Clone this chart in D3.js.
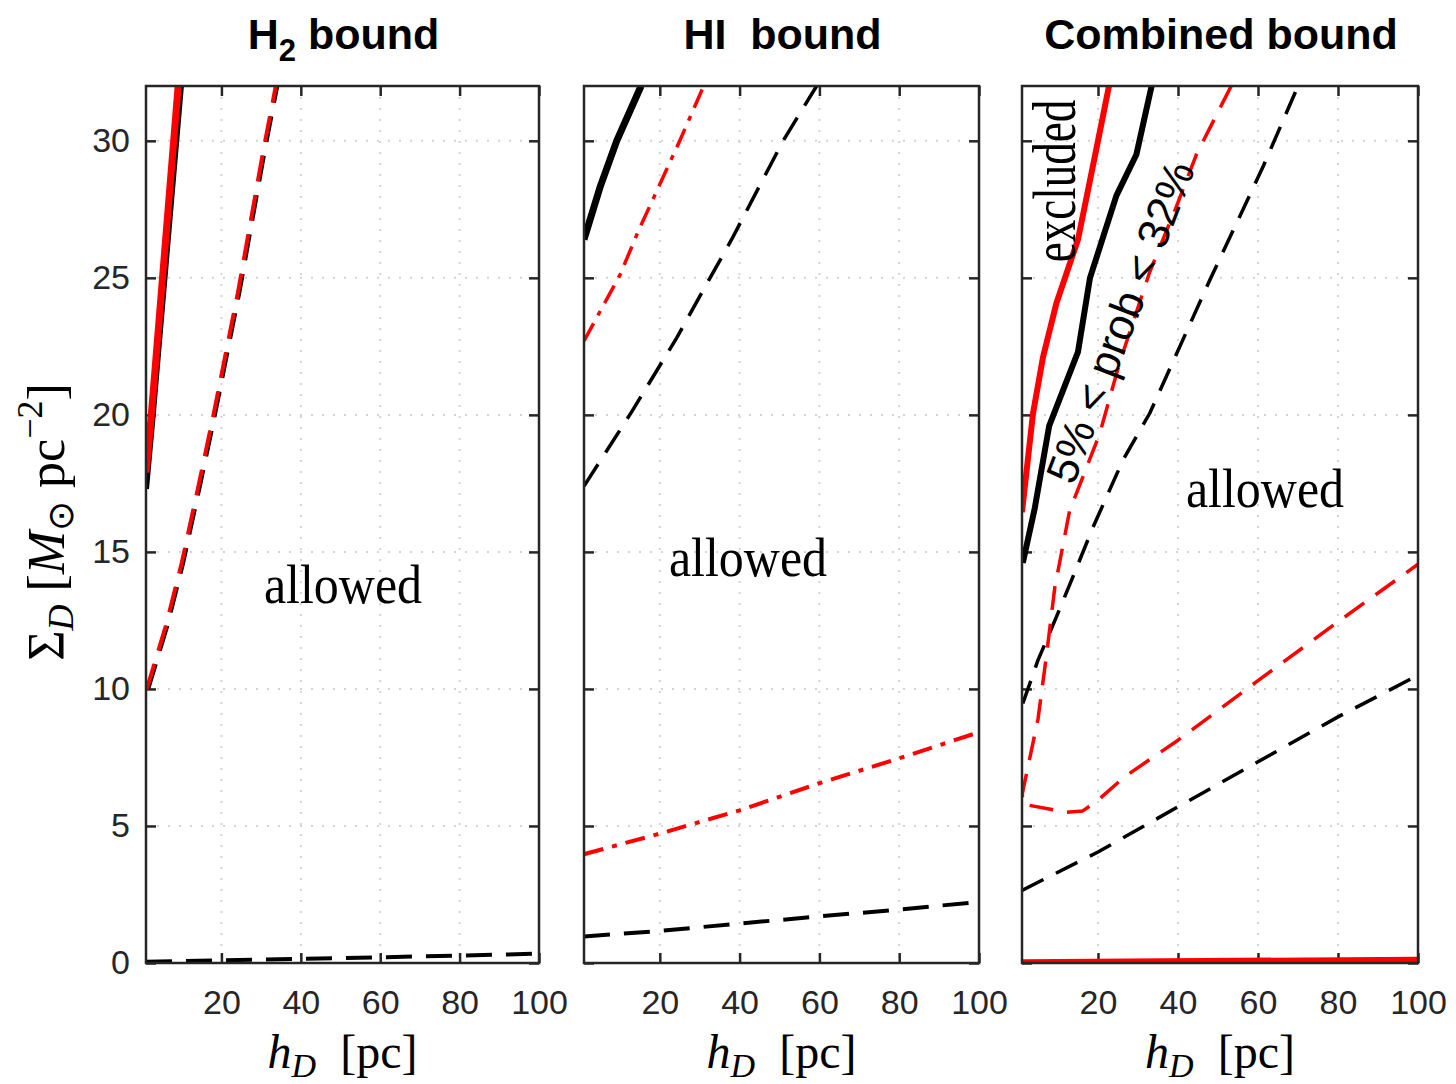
<!DOCTYPE html>
<html>
<head>
<meta charset="utf-8">
<script src="https://cdn.jsdelivr.net/npm/d3@7"></script>
<style>
  body { margin: 0; background: #fff; }
  svg { display: block; }
  .tick text { font-family: "Liberation Sans", Arial, sans-serif; font-size: 34px; fill: #262626; }
  .serif { font-family: "Liberation Serif", "Times New Roman", serif; fill: #000; }
</style>
</head>
<body>
<script>
(function(){

  // ---- data (x = h_D in pc, y = Sigma_D in Msun/pc^2) ----
  var xTicks = [20, 40, 60, 80, 100];
  var yTicks = [0, 5, 10, 15, 20, 25, 30];
  var titles = ['H2 bound', 'HI  bound', 'Combined bound'];

  // H2 bound
  var h2SolidBlack = [[1, 17.3], [2.7, 20], [9.8, 32]];
  var h2SolidRed   = [[1, 17.9], [2.35, 20], [9.1, 32]];
  var h2DashBlack  = [[1.5, 10], [6.3, 12.3], [10.3, 14.6], [14.8, 17.6], [18.3, 20], [24.5, 24.5], [30.8, 29.6], [34, 32]];
  var h2DashRed    = [[1.2, 10], [6, 12.3], [10, 14.6], [14.5, 17.6], [18, 20], [24.2, 24.5], [30.5, 29.6], [33.7, 32]];
  var h2LowBlack   = [[1, 0.05], [20, 0.1], [40, 0.15], [60, 0.21], [80, 0.27], [100, 0.34]];

  // HI bound
  var hiSolidBlack = [[1, 26.4], [5, 28.3], [9.2, 30], [15.3, 32]];
  var hiDashDotRed = [[1, 22.7], [10, 25.1], [14.6, 26.7], [25, 30], [31, 32]];
  var hiDashBlack  = [[1, 17.4], [12.9, 20.1], [24.2, 22.8], [32.6, 25], [38, 26.4], [50.9, 30], [59.3, 32]];
  var hiLowRed     = [[1, 3.97], [20, 4.72], [40, 5.57], [60, 6.56], [80, 7.47], [100, 8.42]];
  var hiLowBlack   = [[1, 0.97], [20, 1.17], [40, 1.44], [60, 1.70], [80, 1.95], [100, 2.23]];

  // Combined bound
  var cbSolidRed   = [[1, 16.45], [3.75, 20.05], [6.25, 22.1], [9.6, 24.07], [15, 26.4], [20, 30], [22.75, 32]];
  var cbSolidBlack = [[1.2, 14.6], [4.2, 16.6], [7.8, 19.6], [15, 22.3], [18, 25], [24.6, 28], [29.6, 29.5], [33.4, 32]];
  var cbDashRed    = [[53.3, 32], [44.6, 29.5], [39.6, 27.6], [32.9, 25.2], [25.4, 21.9], [20.4, 19.3], [12.9, 16.5],
                      [9.2, 13.7], [7.1, 11.2], [5, 8.9], [1.1, 6.2], [1.1, 5.8], [12.1, 5.5], [16.2, 5.55],
                      [20, 5.94], [26.7, 6.8], [40, 8.13], [60, 10.3], [80, 12.45], [100, 14.55]];
  var cbDashBlackUp  = [[1.2, 9.47], [5, 11.05], [9.6, 12.63], [13.75, 14.1], [18.75, 15.9], [26.25, 18.35],
                        [32.9, 20.05], [47.9, 24.9], [61.25, 29.05], [70, 32]];
  var cbDashBlackLow = [[1, 2.65], [20, 4.05], [40, 5.7], [60, 7.34], [80, 8.98], [100, 10.5]];
  var cbSolidRedLow  = [[1, 0.03], [100, 0.12]];

  // ---- layout ----
  var W = 1456, H = 1084;
  var top = 86, bottom = 963;
  var panels = [
    {x0: 146, x1: 539, yLabels: true, series: [
      {d: h2LowBlack, c: '#000', w: 4, dash: '26,14'},
      {d: h2DashBlack, c: '#000', w: 4.5, dash: '26,14'},
      {d: h2DashRed, c: '#f00', w: 4, dash: '26,14'},
      {d: h2SolidBlack, c: '#000', w: 6, dash: null},
      {d: h2SolidRed, c: '#f00', w: 7, dash: null}
    ], notes: [{t: 'allowed', x: 343, y: 603}]},
    {x0: 584, x1: 979, yLabels: false, series: [
      {d: hiLowBlack, c: '#000', w: 4, dash: '26,14'},
      {d: hiDashBlack, c: '#000', w: 3.5, dash: '26,14'},
      {d: hiLowRed, c: '#f00', w: 4, dash: '20,9,5,9'},
      {d: hiDashDotRed, c: '#f00', w: 3.5, dash: '20,9,5,9'},
      {d: hiSolidBlack, c: '#000', w: 7, dash: null}
    ], notes: [{t: 'allowed', x: 748, y: 576}]},
    {x0: 1022, x1: 1418, yLabels: false, series: [
      {d: cbDashBlackLow, c: '#000', w: 3.5, dash: '24,14'},
      {d: cbDashBlackUp, c: '#000', w: 3.5, dash: '24,14'},
      {d: cbDashRed, c: '#f00', w: 3.5, dash: '24,14'},
      {d: cbSolidBlack, c: '#000', w: 6, dash: null},
      {d: cbSolidRed, c: '#f00', w: 6, dash: null},
      {d: cbSolidRedLow, c: '#f00', w: 6, dash: null}
    ], notes: [{t: 'allowed', x: 1265, y: 507}]}
  ];

  var svg = d3.select('body').append('svg')
    .attr('width', W)
    .attr('height', H);

  var y = d3.scaleLinear().domain([0, 32]).range([bottom, top]);

  panels.forEach(function(p, i) {
    var x = d3.scaleLinear().domain([1, 100]).range([p.x0, p.x1]);
    var g = svg.append('g');

    g.append('clipPath').attr('id', 'clip' + i)
      .append('rect')
      .attr('x', p.x0).attr('y', top)
      .attr('width', p.x1 - p.x0).attr('height', bottom - top);

    // dotted grid
    var grid = g.append('g');
    grid.selectAll('line.gx')
      .data(xTicks.slice(0, 4))
      .enter().append('line')
      .attr('x1', function(d) {return x(d);})
      .attr('x2', function(d) {return x(d);})
      .attr('y1', top).attr('y2', bottom);
    grid.selectAll('line.gy')
      .data(yTicks.slice(1))
      .enter().append('line')
      .attr('y1', function(d) {return y(d);})
      .attr('y2', function(d) {return y(d);})
      .attr('x1', p.x0).attr('x2', p.x1);
    grid.selectAll('line')
      .attr('stroke', '#d4d4d4')
      .attr('stroke-width', 2)
      .attr('stroke-dasharray', '2,9');

    // axes with inward ticks
    var bAxis = d3.axisBottom(x).tickValues(xTicks).tickSize(-10).tickPadding(27).tickFormat(d3.format('d'));
    var tAxis = d3.axisTop(x).tickValues(xTicks).tickSize(-10).tickFormat('');
    var lAxis = d3.axisLeft(y).tickValues(yTicks).tickSize(-10).tickPadding(16);
    var rAxis = d3.axisRight(y).tickValues(yTicks).tickSize(-10).tickFormat('');
    if (!p.yLabels) lAxis.tickFormat('');

    [[bAxis, 'translate(0,' + bottom + ')'], [tAxis, 'translate(0,' + top + ')'],
     [lAxis, 'translate(' + p.x0 + ',0)'], [rAxis, 'translate(' + p.x1 + ',0)']].forEach(function(a) {
      var ag = g.append('g').attr('transform', a[1]).call(a[0]);
      ag.select('.domain').remove();
      ag.selectAll('.tick line').attr('stroke', '#262626').attr('stroke-width', 2.5);
    });

    // curves
    var line = d3.line()
      .x(function(d) {return x(d[0]);})
      .y(function(d) {return y(d[1]);});

    g.append('g').attr('clip-path', 'url(#clip' + i + ')')
      .selectAll('path')
      .data(p.series)
      .enter().append('path')
      .attr('d', function(s) {return line(s.d);})
      .attr('fill', 'none')
      .attr('stroke', function(s) {return s.c;})
      .attr('stroke-width', function(s) {return s.w;})
      .attr('stroke-dasharray', function(s) {return s.dash;})
      .attr('stroke-linejoin', 'round');

    // box
    g.append('rect')
      .attr('x', p.x0).attr('y', top)
      .attr('width', p.x1 - p.x0).attr('height', bottom - top)
      .attr('fill', 'none')
      .attr('stroke', '#262626')
      .attr('stroke-width', 2.5);

    p.notes.forEach(function(n) {
      g.append('text').attr('class', 'serif')
        .attr('transform', 'translate(' + n.x + ',' + n.y + ') scale(1,1.1)')
        .attr('text-anchor', 'middle')
        .style('font-size', '50px')
        .text(n.t);
    });

    // x label h_D [pc]
    var xl = g.append('text').attr('class', 'serif')
      .attr('x', (p.x0 + p.x1) / 2).attr('y', 1068)
      .attr('text-anchor', 'middle')
      .style('font-size', '48px');
    xl.append('tspan').style('font-style', 'italic').text('h');
    xl.append('tspan').style('font-style', 'italic').style('font-size', '34px').attr('dy', 9).text('D');
    xl.append('tspan').attr('dy', -9).text('\u00a0\u00a0[pc]');

    // title
    var tt = g.append('text')
      .attr('x', (p.x0 + p.x1) / 2 + 1).attr('y', 49)
      .attr('text-anchor', 'middle')
      .style('font-family', '"Liberation Sans", Arial, sans-serif')
      .style('font-weight', 'bold')
      .style('font-size', '43px');
    if (i === 0) {
      tt.append('tspan').text('H');
      tt.append('tspan').attr('dy', 12).style('font-size', '31px').text('2');
      tt.append('tspan').attr('dy', -12).text('\u00a0bound');
    } else {
      tt.text(titles[i].replace('  ', '\u00a0 '));
    }
  });

  // y label
  var yl = svg.append('text').attr('class', 'serif')
    .attr('transform', 'translate(64,522) rotate(-90)')
    .attr('text-anchor', 'middle')
    .style('font-size', '52px');
  yl.append('tspan').text('\u03a3');
  yl.append('tspan').style('font-style', 'italic').style('font-size', '36px').attr('dy', 9).text('D');
  yl.append('tspan').attr('dy', -9).text('\u00a0[');
  yl.append('tspan').style('font-style', 'italic').text('M');
  yl.append('tspan').style('font-size', '36px').attr('dy', 9).text('\u2299');
  yl.append('tspan').attr('dy', -9).text('\u00a0pc');
  yl.append('tspan').style('font-size', '36px').attr('dy', -22).text('\u22122');
  yl.append('tspan').attr('dy', 22).text(']');

  // annotations in the combined panel
  svg.append('text').attr('class', 'serif')
    .attr('transform', 'translate(1075,181) rotate(-90) scale(1,1.38)')
    .attr('text-anchor', 'middle')
    .style('font-size', '45px')
    .text('excluded');

  svg.append('text')
    .attr('transform', 'translate(1120,322) rotate(-69)')
    .attr('text-anchor', 'middle')
    .attr('dominant-baseline', 'central')
    .style('font-family', '"Liberation Sans", Arial, sans-serif')
    .style('font-size', '44px')
    .text('5% < prob < 32%');

})();
</script>
</body>
</html>
